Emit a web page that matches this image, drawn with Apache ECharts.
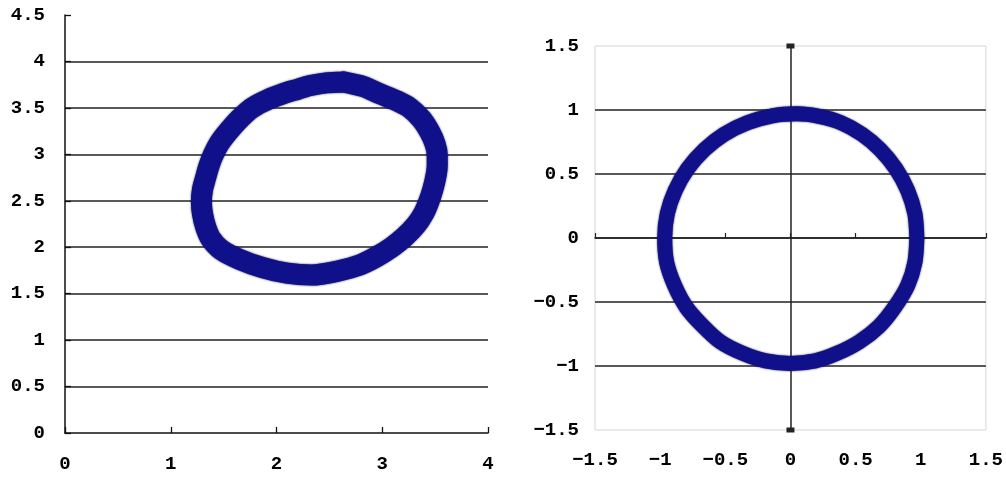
<!DOCTYPE html>
<html>
<head>
<meta charset="utf-8">
<script src="https://cdn.jsdelivr.net/npm/echarts@6/dist/echarts.min.js"></script>
<style>
  html, body { margin: 0; padding: 0; background: #fff; }
  #chart { width: 1006px; height: 477px; }
</style>
</head>
<body>
<div id="chart"></div>
<script>
// Left panel: tilted elliptical ring (centre line of the band), clockwise from the top
const leftRingX = [2.63, 2.82, 2.98, 3.13, 3.26, 3.37, 3.45, 3.50, 3.52, 3.52, 3.51, 3.48, 3.44, 3.39, 3.32, 3.21, 3.09, 2.95, 2.79, 2.57, 2.33, 2.10, 1.87, 1.65, 1.48, 1.38, 1.33, 1.30, 1.29, 1.30, 1.33, 1.36, 1.40, 1.46, 1.54, 1.65, 1.77, 1.92, 2.08, 2.20, 2.32, 2.47, 2.63];
const leftRingY = [3.78, 3.73, 3.65, 3.58, 3.50, 3.38, 3.24, 3.11, 2.99, 2.88, 2.78, 2.63, 2.49, 2.36, 2.24, 2.11, 2.00, 1.90, 1.81, 1.74, 1.70, 1.72, 1.78, 1.87, 1.97, 2.09, 2.22, 2.36, 2.49, 2.62, 2.75, 2.87, 2.99, 3.12, 3.24, 3.38, 3.50, 3.59, 3.66, 3.70, 3.74, 3.77, 3.78];

// Right panel: near-unit circle (centre line of the band), anticlockwise from the right
const rightRingX = [0.97, 0.955, 0.90, 0.81, 0.69, 0.55, 0.39, 0.22, 0.05, -0.14, -0.33, -0.51, -0.66, -0.79, -0.885, -0.945, -0.965, -0.95, -0.89, -0.80, -0.68, -0.54, -0.37, -0.19, 0.00, 0.19, 0.36, 0.53, 0.68, 0.80, 0.90, 0.955, 0.97];
const rightRingY = [0.00, 0.19, 0.37, 0.54, 0.69, 0.81, 0.90, 0.95, 0.97, 0.955, 0.90, 0.81, 0.69, 0.54, 0.37, 0.19, 0.00, -0.19, -0.37, -0.54, -0.68, -0.81, -0.90, -0.96, -0.98, -0.96, -0.90, -0.81, -0.69, -0.54, -0.37, -0.19, 0.00];

// Axis ranges and tick steps
const leftXRange = [0, 4], leftXStep = 1;
const leftYRange = [0, 4.5], leftYStep = 0.5;
const rightRange = [-1.5, 1.5], rightStep = 0.5;

const pairs = (xs, ys) => xs.map((x, i) => [x, ys[i]]);
const fmt = v => String(v).replace('-', '\u2212');

const labelFont = {
  color: '#000',
  fontFamily: 'Liberation Mono',
  fontSize: 19,
  fontWeight: 'bold',
  formatter: fmt
};
const ringColor = '#10108a';
const ringLine = width => ({
  color: ringColor, width: width, join: 'round', cap: 'round',
  shadowColor: 'rgba(0,0,40,0.9)', shadowBlur: 2
});

const chart = echarts.init(document.getElementById('chart'), null, { renderer: 'canvas' });

chart.setOption({
  animation: false,
  backgroundColor: '#fff',
  grid: [
    { left: 65, top: 15, width: 423, height: 418, show: false },
    { left: 595, top: 46, width: 395, height: 384, show: true,
      borderColor: '#d6d6d6', borderWidth: 1, backgroundColor: 'transparent' }
  ],
  xAxis: [
    { type: 'value', gridIndex: 0, min: leftXRange[0], max: leftXRange[1], interval: leftXStep,
      axisLine: { show: true, onZero: false, lineStyle: { color: '#111', width: 1.5 } },
      axisTick: { show: true, inside: true, length: 6, lineStyle: { color: '#111', width: 1.3 } },
      axisLabel: Object.assign({}, labelFont, { margin: 22 }),
      splitLine: { show: false } },
    { type: 'value', gridIndex: 1, min: rightRange[0], max: rightRange[1], interval: rightStep,
      position: 'bottom',
      axisLine: { show: false, onZero: false },
      axisTick: { show: false },
      axisLabel: Object.assign({}, labelFont, { margin: 21 }),
      splitLine: { show: false } },
    { type: 'value', gridIndex: 1, min: rightRange[0], max: rightRange[1], interval: rightStep,
      position: 'bottom',
      axisLine: { show: true, onZero: true, lineStyle: { color: '#222', width: 1.5 } },
      axisTick: { show: true, inside: true, length: 5, lineStyle: { color: '#222', width: 1.2 } },
      axisLabel: { show: false },
      splitLine: { show: false } }
  ],
  yAxis: [
    { type: 'value', gridIndex: 0, min: leftYRange[0], max: leftYRange[1], interval: leftYStep,
      axisLine: { show: true, onZero: false, lineStyle: { color: '#111', width: 1.5 } },
      axisTick: { show: true, inside: true, length: 6, lineStyle: { color: '#111', width: 1.3 } },
      axisLabel: Object.assign({}, labelFont, { margin: 20 }),
      splitLine: { show: true, showMinLine: false, showMaxLine: false,
        lineStyle: { color: '#222', width: 1.5 } } },
    { type: 'value', gridIndex: 1, min: rightRange[0], max: rightRange[1], interval: rightStep,
      position: 'left',
      axisLine: { show: false, onZero: false },
      axisTick: { show: false },
      axisLabel: Object.assign({}, labelFont, { margin: 16 }),
      splitLine: { show: true, showMinLine: false, showMaxLine: false,
        lineStyle: { color: '#222', width: 1.5 } } },
    { type: 'value', gridIndex: 1, min: rightRange[0], max: rightRange[1], interval: rightStep,
      position: 'left',
      axisLine: { show: true, onZero: true, symbol: ['rect', 'rect'], symbolSize: [8, 5],
        lineStyle: { color: '#222', width: 1.5 } },
      axisTick: { show: false },
      axisLabel: { show: false },
      splitLine: { show: false } }
  ],
  series: [
    { type: 'line', xAxisIndex: 0, yAxisIndex: 0,
      data: pairs(leftRingX, leftRingY),
      smooth: 0.3, showSymbol: false, symbol: 'none',
      lineStyle: ringLine(21) },
    { type: 'line', xAxisIndex: 1, yAxisIndex: 1,
      data: pairs(rightRingX, rightRingY),
      smooth: 0.3, showSymbol: false, symbol: 'none',
      lineStyle: ringLine(15) }
  ]
});
</script>
</body>
</html>
